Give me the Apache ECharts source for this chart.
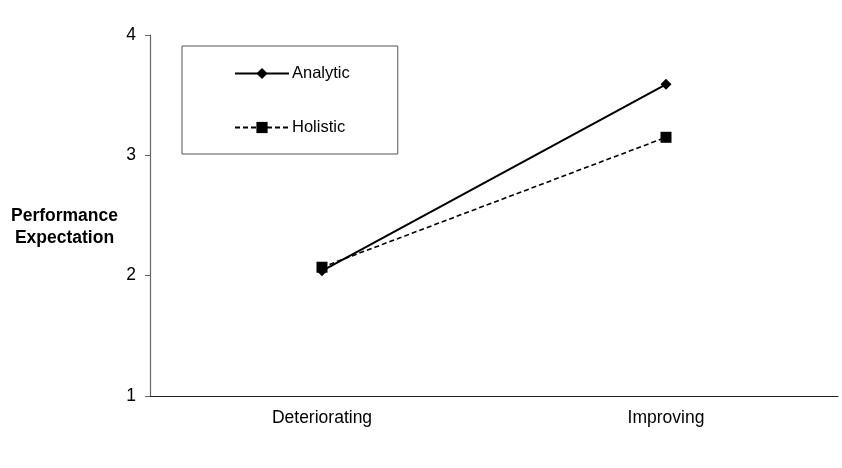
<!DOCTYPE html>
<html>
<head>
<meta charset="utf-8">
<script src="https://cdn.jsdelivr.net/npm/echarts@6/dist/echarts.min.js"></script>
<style>
  html, body { margin: 0; padding: 0; background: #fff; }
  #chart { width: 842px; height: 468px; }
</style>
</head>
<body>
<div id="chart"></div>
<script>
    // data
    var categories = ['Deteriorating', 'Improving'];
    var analytic   = [2.04, 3.59];
    var holistic   = [2.07, 3.15];
    var yTicks     = [1, 2, 3, 4];

    var font = 'Liberation Sans, Arial, sans-serif';
    var chart = echarts.init(document.getElementById('chart'));

    var option = {
        animation: false,
        backgroundColor: '#fff',
        textStyle: { fontFamily: font },
        grid: {
            left: 150,
            right: 4,
            top: 35,
            bottom: 72
        },
        legend: {
            orient: 'vertical',
            left: 182,
            top: 46,
            padding: [19, 48, 18, 52],
            itemGap: 37,
            itemWidth: 54,
            itemHeight: 14,
            borderColor: '#555',
            borderWidth: 1,
            textStyle: {
                color: '#000', fontSize: 16.5,
                padding: [0, 0, 0, -2], fontFamily: font
            },
            data: ['Analytic', 'Holistic']
        },
        graphic: [{
            type: 'text',
            left: 11,
            top: 205,
            style: {
                text: 'Performance\nExpectation',
                font: 'bold 17.5px ' + font,
                fill: '#000',
                textAlign: 'center',
                lineHeight: 22,
                x: 55
            }
        }],
        xAxis: {
            type: 'category',
            data: categories,
            boundaryGap: true,
            axisLine: { lineStyle: { color: '#222', width: 1.2 } },
            axisTick: { show: false },
            axisLabel: { color: '#000', fontSize: 17.5, margin: 13, fontFamily: font }
        },
        yAxis: {
            type: 'value',
            min: yTicks[0],
            max: yTicks[yTicks.length - 1],
            interval: 1,
            splitLine: { show: false },
            axisLine: { show: true, lineStyle: { color: '#666', width: 1.2 } },
            axisTick: { show: true, length: 5, lineStyle: { color: '#666' } },
            axisLabel: { color: '#000', fontSize: 17.5, margin: 14, fontFamily: font }
        },
        series: [
            {
                name: 'Analytic',
                type: 'line',
                data: analytic,
                symbol: 'diamond',
                symbolSize: 11,
                color: '#000',
                lineStyle: { color: '#000', width: 2 },
                itemStyle: { color: '#000' }
            },
            {
                name: 'Holistic',
                type: 'line',
                data: holistic,
                symbol: 'rect',
                symbolSize: 11,
                color: '#000',
                lineStyle: { color: '#000', width: 1.6, type: [5, 3] },
                itemStyle: { color: '#000' }
            }
        ]
    };

    chart.setOption(option);
</script>
</body>
</html>
